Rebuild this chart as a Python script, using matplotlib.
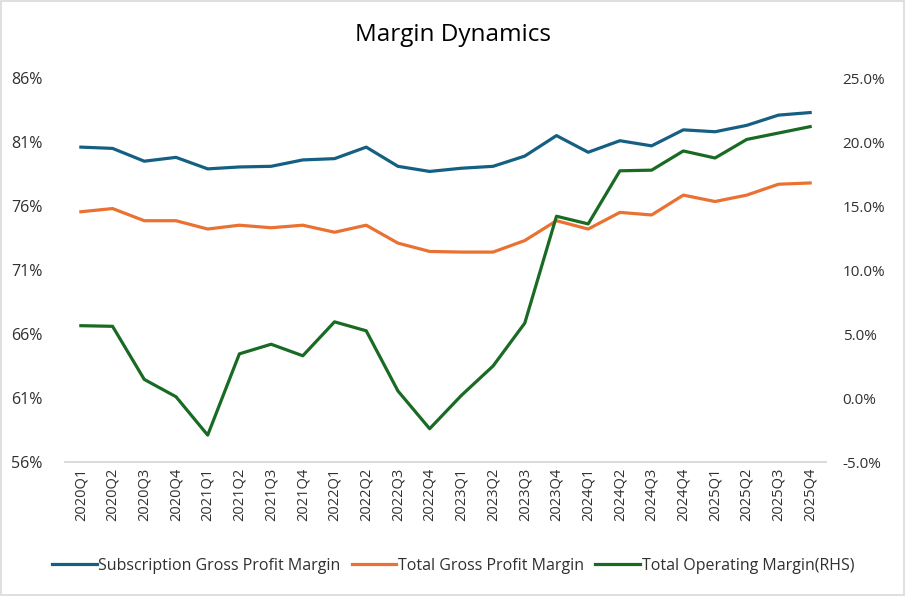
import matplotlib
matplotlib.use("Agg")
import matplotlib.pyplot as plt
from matplotlib.ticker import FuncFormatter
from matplotlib.patches import Rectangle

# quarters
quarters = ["2020Q1", "2020Q2", "2020Q3", "2020Q4",
            "2021Q1", "2021Q2", "2021Q3", "2021Q4",
            "2022Q1", "2022Q2", "2022Q3", "2022Q4",
            "2023Q1", "2023Q2", "2023Q3", "2023Q4",
            "2024Q1", "2024Q2", "2024Q3", "2024Q4",
            "2025Q1", "2025Q2", "2025Q3", "2025Q4"]

# margins in %
subscription_gpm = [80.6, 80.5, 79.5, 79.8, 78.9, 79.05, 79.1, 79.6,
                    79.7, 80.6, 79.1, 78.7, 78.95, 79.1, 79.9, 81.5,
                    80.2, 81.1, 80.7, 81.95, 81.8, 82.3, 83.1, 83.3]
total_gpm = [75.55, 75.8, 74.85, 74.85, 74.2, 74.5, 74.3, 74.5,
             73.95, 74.5, 73.1, 72.45, 72.4, 72.4, 73.3, 74.85,
             74.2, 75.5, 75.3, 76.85, 76.35, 76.85, 77.7, 77.8]
operating_margin = [5.65, 5.6, 1.45, 0.1, -2.9, 3.45, 4.2, 3.3,
                    5.95, 5.25, 0.55, -2.4, 0.2, 2.5, 5.85, 14.2,
                    13.6, 17.75, 17.8, 19.3, 18.75, 20.2, 20.7, 21.2]

c_blue = "#156082"
c_orange = "#E97132"
c_green = "#196B24"

plt.rcParams['font.family'] = ['Open Sans', 'DejaVu Sans']

fig = plt.figure(figsize=(9.06, 5.96), dpi=100)
ax = fig.add_axes([65 / 906, 1 - 462 / 596, 761 / 906, 384 / 596])
ax2 = ax.twinx()

x = list(range(len(quarters)))
l1, = ax.plot(x, subscription_gpm, color=c_blue, lw=2.3, solid_joinstyle="round")
l2, = ax.plot(x, total_gpm, color=c_orange, lw=2.3, solid_joinstyle="round")
l3, = ax2.plot(x, operating_margin, color=c_green, lw=2.3, solid_joinstyle="round")

ax.set_xlim(-0.5, len(quarters) - 0.5)
ax.set_ylim(56, 86)
ax.set_yticks([56, 61, 66, 71, 76, 81, 86])
ax.yaxis.set_major_formatter(FuncFormatter(lambda v, p: f"{v:.0f}%"))
ax2.set_ylim(-5, 25)
ax2.set_yticks([-5, 0, 5, 10, 15, 20, 25])
ax2.yaxis.set_major_formatter(FuncFormatter(lambda v, p: f"{v:.1f}%"))

ax.set_xticks(x)
ax.set_xticklabels(quarters, rotation=90)

for a in (ax, ax2):
    for s in ("top", "left", "right"):
        a.spines[s].set_visible(False)
    a.spines["bottom"].set_color("#D9D9D9")
    a.spines["bottom"].set_linewidth(1.2)
    a.tick_params(length=0, labelsize=11, colors="#303030")
ax.tick_params(axis="y", pad=16, labelsize=11.5)
ax2.tick_params(axis="y", pad=12)
ax.tick_params(axis="x", pad=4, labelsize=10.5)

fig.text(0.5, 1 - 35 / 596, "Margin Dynamics", ha="center", va="center",
         fontsize=17.5, color="#000000")

fig.legend([l1, l2, l3],
           ["Subscription Gross Profit Margin", "Total Gross Profit Margin",
            "Total Operating Margin(RHS)"],
           loc="center", bbox_to_anchor=(0.5, 1 - 566 / 596), ncol=3,
           frameon=False, fontsize=11.5, handlelength=2.8, handletextpad=0.1,
           columnspacing=0.7, labelcolor="#303030")

fig.patches.append(Rectangle((0.001, 0.001), 0.997, 0.997, transform=fig.transFigure,
                             fill=False, edgecolor="#D9D9D9", lw=1.2))

fig.savefig("out.png", dpi=100)
